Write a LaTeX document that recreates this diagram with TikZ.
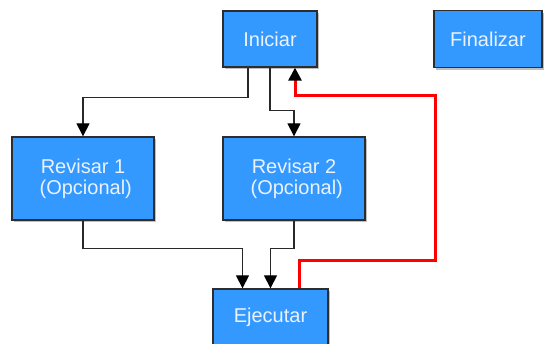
\documentclass[tikz,border=0pt]{standalone}
\usepackage{fontspec}
\setmainfont{Liberation Sans}
\usetikzlibrary{arrows.meta,shadows}
\definecolor{boxblue}{RGB}{51,153,255}
\definecolor{boxedge}{RGB}{45,45,45}
\definecolor{txt}{RGB}{235,242,255}
\definecolor{lnk}{RGB}{40,40,40}
\begin{document}
\begin{tikzpicture}[x=1pt,y=-1pt,
  stepbox/.style={draw=boxedge,line width=1.3pt,fill=boxblue,text=txt,
    inner sep=0pt,align=center,font=\fontsize{20}{21}\selectfont,
    drop shadow={shadow xshift=2pt,shadow yshift=-2.5pt,opacity=0.25,fill=black}},
  link/.style={draw=lnk,line width=1.2pt,-{Triangle[width=13pt,length=13pt,color=black]}},
  back/.style={draw=red,line width=3pt,-{Triangle[width=13pt,length=13pt,color=black]}}]
\useasboundingbox (0,0) rectangle (544,344);
\node[stepbox,minimum width=94pt,minimum height=56pt] (ini) at (270,39) {Iniciar};
\node[stepbox,minimum width=108pt,minimum height=57pt] (fin) at (488,39) {Finalizar};
\node[stepbox,minimum width=142pt,minimum height=83pt] (r1) at (83,178.5) {Revisar 1\\\mbox{}\ (Opcional)};
\node[stepbox,minimum width=142pt,minimum height=83pt] (r2) at (294,178.5) {Revisar 2\\\mbox{}\ (Opcional)};
\node[stepbox,minimum width=115pt,minimum height=56pt] (ej) at (270.5,317) {Ejecutar};
\draw[link] ([xshift=-22pt]ini.south) -- ++(0,30) -| (r1.north);
\draw[link] (ini.south) -- ++(0,43) -| (r2.north);
\draw[link] (r1.south) -- ++(0,28) -| ([xshift=-28pt]ej.north);
\draw[link] (r2.south) -- ++(0,28) -| (ej.north);
\draw[back] ([xshift=28.5pt]ej.north) -- ++(0,-28) -- ++(136,0) -- ++(0,-165) -| ([xshift=25pt]ini.south);
\end{tikzpicture}
\end{document}
